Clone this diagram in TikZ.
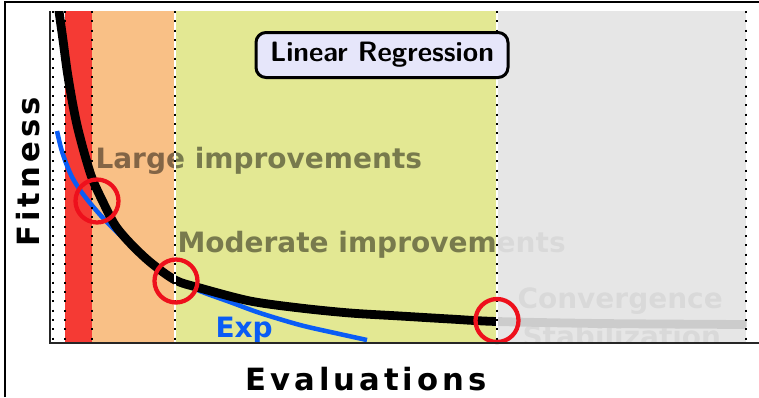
\documentclass[tikz,border=0pt]{standalone}
\usepackage{fontspec}
\usepackage{tikz}
\usetikzlibrary{positioning}
\newfontfamily\phasefont{DejaVu Sans}
\newfontfamily\axisfont{DejaVu Sans}[LetterSpace=13]
\definecolor{zonered}{RGB}{245,58,52}
\definecolor{zoneorange}{RGB}{249,192,134}
\definecolor{zoneyellow}{RGB}{227,232,147}
\definecolor{zonegray}{RGB}{227,227,227}
\definecolor{ringred}{RGB}{238,16,28}
\definecolor{expblue}{RGB}{10,92,245}
\definecolor{boxlavender}{RGB}{230,230,250}
\tikzset{every picture/.style={line width=0.75pt}}
\tikzset{
  phase/.style={font=\phasefont\bfseries\fontsize{21}{24}\selectfont, text opacity=0.47, inner sep=0pt},
  ring/.style={draw=ringred, line width=3.2pt},
  zoneline/.style={dash pattern=on 1.5pt off 5.5pt, line width=0.9pt},
  axistitle/.style={font=\axisfont\bfseries\fontsize{23}{26}\selectfont, inner sep=0pt},
}

\begin{document}
\begin{tikzpicture}[x=0.75pt,y=0.75pt,yscale=-1,xscale=1]
\useasboundingbox (0,0) rectangle (759,397);

%Frame
\draw [line width=1.6pt] (5,397) -- (5,2) -- (759,2) ;

\begin{scope}
\clip (50,11) rectangle (759,343);
%Shape: Rectangle (zones)
\fill [zonered] (65,11) rectangle (92,343);
\fill [zoneorange] (92,11) rectangle (175,343);
\fill [zoneyellow] (175,11) rectangle (497,343);

% Text Node
\node (large) [phase, anchor=base west] at (95,168) {Large improvements};
% Text Node
\node (moderate) [phase, anchor=base west] at (177,252) {Moderate improvements};
% Text Node
\node (converge) [phase, anchor=base west] at (517,308) {Convergence};
% Text Node
\node (stable) [phase, anchor=base west] at (522,346) {Stabilization};

%Curve Lines (exp fit)
\draw [expblue, line width=3.4pt] plot [smooth, tension=0.5] coordinates {(57,131) (61,148) (66,163) (72,177) (80,190) (90,203) (103,218) (120,235) (140,253) (160,268) (177,279) (200,291) (230,302) (260,313) (300,325) (335,333) (367,340)};
%Curve Lines (fitness)
\draw [line width=6.6pt] plot [smooth, tension=0.5] coordinates {(57,-10) (59,11) (63,40) (67,70) (72,100) (77,125) (84,152) (92,178) (102,200) (115,225) (130,243) (150,262) (175,280) (200,288) (250,301) (300,308) (350,313) (400,316) (450,319) (497,321.5) (600,323.5) (746,324.5)};

%Shape: Rectangle (converged zone)
\fill [zonegray, opacity=0.9] (497,11) rectangle (746,343);
\end{scope}

%Straight Lines (zone borders)
\foreach \xb in {175,497}
  \draw [white, line width=1pt] (\xb,11) -- (\xb,343);
\foreach \xb in {53,65,92,175,497,746}
  \draw [zoneline] (\xb,11) -- (\xb,343);

%Shape: Circle
\draw [ring] (97,201) circle (21.5);
\draw [ring] (176,281) circle (21.5);
\draw [ring] (497,320.5) circle (21.5);

% Text Node
\node (title) [draw, line width=2.25pt, rounded corners=7.5pt, fill=boxlavender, minimum width=189pt, minimum height=33.75pt, font=\sffamily\bfseries\fontsize{21}{24}\selectfont] at (382,55) {Linear Regression};
% Text Node
\node (exp) [anchor=base west, inner sep=0pt, text=expblue, font=\phasefont\bfseries\fontsize{21}{24}\selectfont] at (215,337) {Exp};

%Straight Lines (axes)
\draw [line width=1.5pt, black!85] (50,11) -- (50,343) -- (759,343) ;

% Text Node
\node (evals) [axistitle, anchor=base] at (366,390) {Evaluations};
% Text Node
\node (fitness) [axistitle, anchor=base, rotate=90] at (39,172) {Fitness};

\end{tikzpicture}
\end{document}
